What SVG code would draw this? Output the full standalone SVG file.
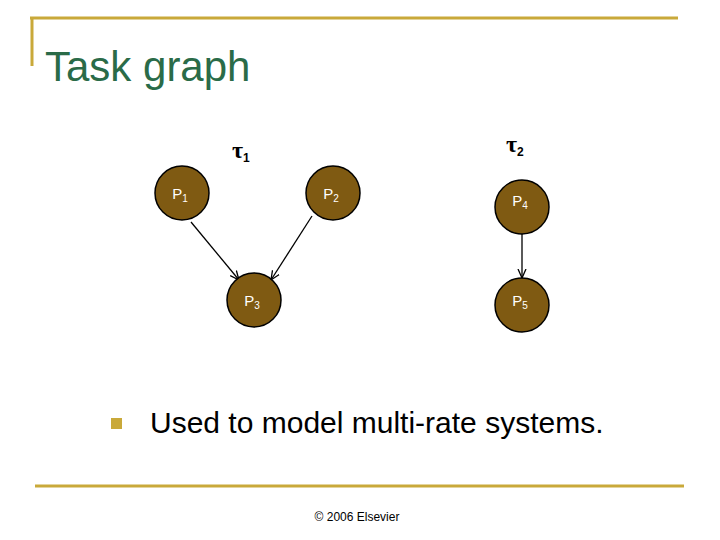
<svg xmlns="http://www.w3.org/2000/svg" width="720" height="540" viewBox="0 0 720 540">
<style>
.n{fill:#7f5a12;stroke:#000;stroke-width:1.5}
.t{font-family:"Liberation Sans",Arial,sans-serif;fill:#fff;font-size:15px;text-anchor:middle}
.s{font-size:10px}
.c{stroke:#000;stroke-width:1.3;fill:none;marker-end:url(#a)}
.g{stroke:#c9a93a;stroke-width:3}
</style>
<defs><marker id="a" markerWidth="10" markerHeight="10" refX="9" refY="5" orient="auto" markerUnits="userSpaceOnUse"><path d="M0,1 L9,5 L0,9" fill="none" stroke="#000" stroke-width="1.3"/></marker></defs>
<rect width="720" height="540" fill="#fff"/>
<line class="g" x1="30" y1="18" x2="678" y2="18"/>
<line class="g" x1="32" y1="17" x2="32" y2="66"/>
<line class="g" x1="35" y1="486" x2="684" y2="486"/>
<text x="45" y="81" font-family="Liberation Sans,Arial,sans-serif" font-size="42" fill="#2a6b48">Task graph</text>
<text x="232" y="158" font-family="Liberation Serif,serif" font-size="24" font-weight="bold">τ<tspan font-size="12" font-family="Liberation Sans,sans-serif" dy="4">1</tspan></text>
<text x="506" y="152" font-family="Liberation Serif,serif" font-size="24" font-weight="bold">τ<tspan font-size="12" font-family="Liberation Sans,sans-serif" dy="4">2</tspan></text>
<g id="connectors">
<line class="c" x1="191" y1="222" x2="239" y2="280"/>
<line class="c" x1="312" y1="216" x2="271" y2="280"/>
<line class="c" x1="522" y1="234" x2="522" y2="278"/>
</g>
<g id="P1"><circle class="n" cx="182" cy="193" r="27"/><text class="t" x="180" y="199">P<tspan class="s" dy="3">1</tspan></text></g>
<g id="P2"><circle class="n" cx="333" cy="193" r="27"/><text class="t" x="331" y="199">P<tspan class="s" dy="3">2</tspan></text></g>
<g id="P3"><circle class="n" cx="254" cy="300" r="27"/><text class="t" x="252" y="306">P<tspan class="s" dy="3">3</tspan></text></g>
<g id="P4"><circle class="n" cx="522" cy="207" r="27"/><text class="t" x="520" y="206">P<tspan class="s" dy="3">4</tspan></text></g>
<g id="P5"><circle class="n" cx="522" cy="305" r="27"/><text class="t" x="520" y="306">P<tspan class="s" dy="3">5</tspan></text></g>
<rect x="111" y="418" width="11" height="11" fill="#c9a93a"/>
<text x="150" y="433" font-family="Liberation Sans,Arial,sans-serif" font-size="30">Used to model multi-rate systems.</text>
<text x="357" y="521" font-family="Liberation Sans,Arial,sans-serif" font-size="12" text-anchor="middle">© 2006 Elsevier</text>
</svg>
